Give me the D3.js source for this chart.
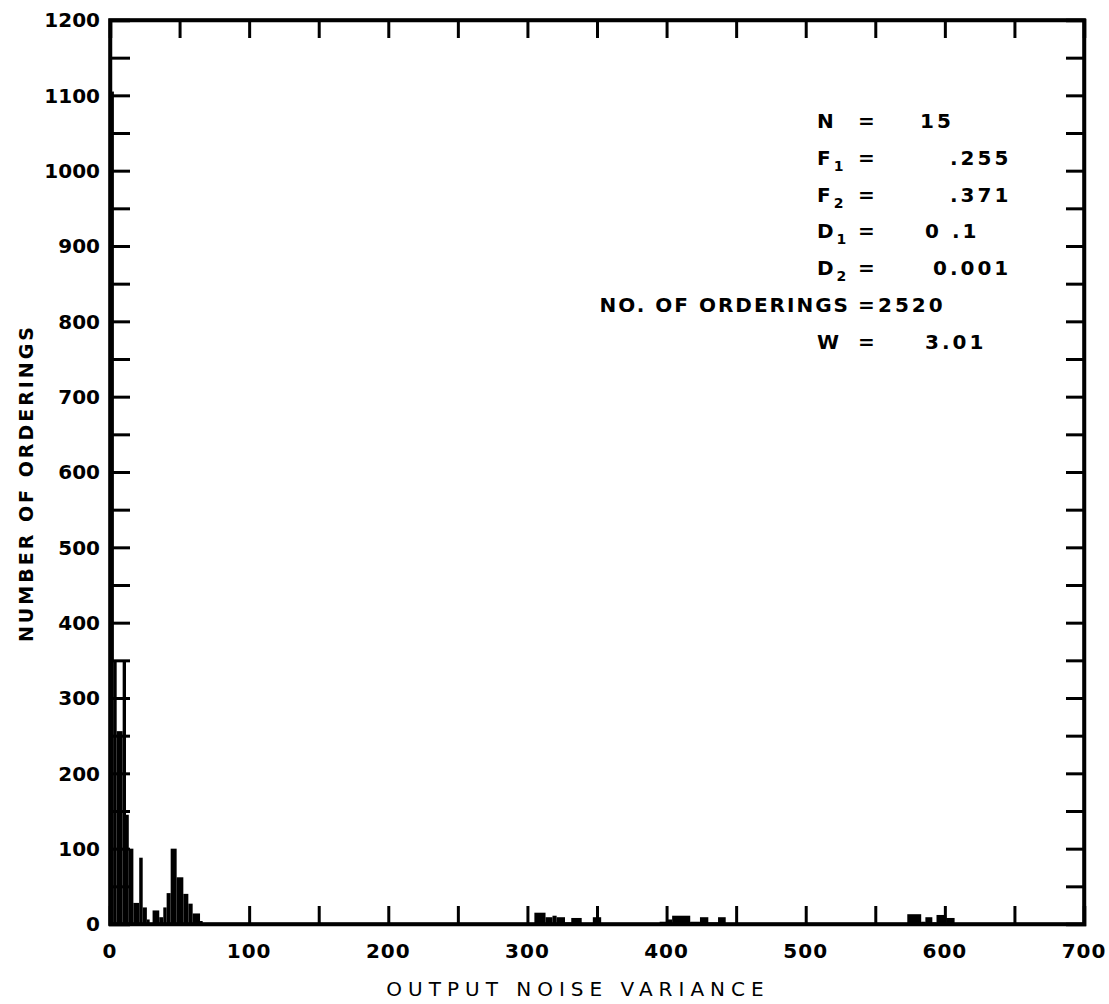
<!DOCTYPE html>
<html>
<head>
<meta charset="utf-8">
<script src="https://cdn.jsdelivr.net/npm/d3@7"></script>
<style>
  html, body { margin: 0; padding: 0; background: #fff; }
  svg { display: block; }
</style>
</head>
<body>
<svg id="chart" width="1109" height="1004"></svg>
<script>
// ---- data ----
// histogram segments: start, end (output noise variance) and number of orderings
const binStart = [0, 2.8, 4.8, 9.1, 11.5, 13.5, 16.8, 21, 23.5, 26.5, 30.6, 35.4, 38.3, 40.7, 43.6, 47.9, 52.7, 56.3, 59.4, 64.7,
  305, 313, 318, 321, 327, 331.5, 339, 347,
  395, 400, 404, 417, 424, 430, 437,
  573, 583, 586, 591, 594, 601];
const binEnd = [2.8, 4.8, 9.1, 11.5, 13.5, 16.8, 21, 23.5, 26.5, 28.5, 35.4, 38.3, 40.7, 43.6, 47.9, 52.7, 56.3, 59.4, 64.7, 66.6,
  313, 318, 321, 327, 331.5, 339, 347, 353,
  400, 404, 417, 424, 430, 437, 442.5,
  583, 586, 591, 594, 601, 607];
const counts = [1105, 350, 256, 350, 145, 100, 28, 88, 22, 6, 18, 9, 22, 41, 100, 62, 40, 27, 14, 4,
  15, 9, 11, 9, 2, 8, 1, 9,
  3, 6, 11, 3, 9, 2, 9,
  13, 3, 9, 2, 12, 8];

const xTickLabels = [0, 100, 200, 300, 400, 500, 600, 700];
const xMinorTicks = [50, 100, 150, 200, 250, 300, 350, 400, 450, 500, 550, 600, 650];
const yTickLabels = [0, 100, 200, 300, 400, 500, 600, 700, 800, 900, 1000, 1100, 1200];
const yMinorTicks = [50, 100, 150, 200, 250, 300, 350, 400, 450, 500, 550, 600, 650, 700, 750, 800, 850, 900, 950, 1000, 1050, 1100, 1150];

const infoNames = ["N", "F", "F", "D", "D", "NO. OF ORDERINGS", "W"];
const infoSubs = ["", "1", "2", "1", "2", "", ""];
const infoValues = ["15", ".255", ".371", "0 .1", "0.001", "2520", "3.01"];

// ---- drawing ----
(function () {
const svg = d3.select("#chart");
const pLeft = 110, pRight = 1084, pTop = 20, pBottom = 924;
const x = d3.scaleLinear().domain([0, 700]).range([pLeft, pRight]);
const y = d3.scaleLinear().domain([0, 1200]).range([pBottom, pTop]);

const bars = binStart.map((s, i) => ({ s, e: binEnd[i], c: counts[i] }));

svg.append("g").selectAll("rect").data(bars).join("rect")
  .attr("x", d => x(d.s))
  .attr("width", d => x(d.e) - x(d.s))
  .attr("y", d => y(d.c))
  .attr("height", d => y(0) - y(d.c))
  .attr("fill", "#000");

const tickLen = 18;
const xb = svg.append("g").attr("transform", `translate(0,${pBottom})`)
  .call(d3.axisBottom(x).tickValues(xMinorTicks).tickSize(-tickLen).tickFormat(""));
const xt = svg.append("g").attr("transform", `translate(0,${pTop})`)
  .call(d3.axisTop(x).tickValues(xMinorTicks).tickSize(-tickLen).tickFormat(""));
const yl = svg.append("g").attr("transform", `translate(${pLeft},0)`)
  .call(d3.axisLeft(y).tickValues(yMinorTicks).tickSize(-20).tickFormat(""));
const yr = svg.append("g").attr("transform", `translate(${pRight},0)`)
  .call(d3.axisRight(y).tickValues(yMinorTicks).tickSize(-18).tickFormat(""));

[xb, xt, yl, yr].forEach(g => {
  g.select(".domain").attr("stroke", "#000").attr("stroke-width", 3.5);
  g.selectAll(".tick line").attr("stroke", "#000").attr("stroke-width", 3);
});
svg.append("rect").attr("x", pLeft).attr("y", pTop)
  .attr("width", pRight - pLeft).attr("height", pBottom - pTop)
  .attr("fill", "none").attr("stroke", "#000").attr("stroke-width", 3.5);

const labFont = "'DejaVu Sans', sans-serif";

svg.append("g").selectAll("text").data(xTickLabels).join("text")
  .attr("x", d => x(d))
  .attr("y", 958)
  .attr("text-anchor", "middle")
  .attr("font-family", labFont).attr("font-weight", "bold").attr("font-size", 20)
  .attr("letter-spacing", 1)
  .text(d => d);

svg.append("g").selectAll("text").data(yTickLabels).join("text")
  .attr("x", 100)
  .attr("y", d => y(d))
  .attr("dy", "0.36em")
  .attr("text-anchor", "end")
  .attr("font-family", labFont).attr("font-weight", "bold").attr("font-size", 20)
  .text(d => d);

svg.append("text")
  .attr("x", 578).attr("y", 996)
  .attr("text-anchor", "middle")
  .attr("font-family", labFont).attr("font-size", 20)
  .attr("letter-spacing", 6)
  .text("OUTPUT NOISE VARIANCE");

svg.append("text")
  .attr("transform", "translate(33,483) rotate(-90)")
  .attr("text-anchor", "middle")
  .attr("font-family", labFont).attr("font-weight", "bold").attr("font-size", 19)
  .attr("letter-spacing", 3)
  .text("NUMBER OF ORDERINGS");

const rowY0 = 128, rowStep = 36.8;
const info = svg.append("g").attr("font-family", labFont).attr("font-weight", "bold").attr("font-size", 20);
const valueX = [920, 950, 950, 925, 933, 878, 925];
infoNames.forEach((nm, i) => {
  const yy = rowY0 + i * rowStep;
  const t = info.append("text").attr("y", yy).attr("letter-spacing", 2);
  if (nm.length > 2) {
    t.attr("x", 850).attr("text-anchor", "end").text(nm);
  } else {
    t.attr("x", 817).text(nm);
    if (infoSubs[i]) {
      t.append("tspan").attr("dy", 6).attr("dx", 1).attr("font-size", 14).text(infoSubs[i]);
    }
  }
  info.append("text").attr("x", 858).attr("y", yy).text("=");
  info.append("text").attr("x", valueX[i]).attr("y", yy).attr("letter-spacing", 3).text(infoValues[i]);
});
})();
</script>
</body>
</html>
